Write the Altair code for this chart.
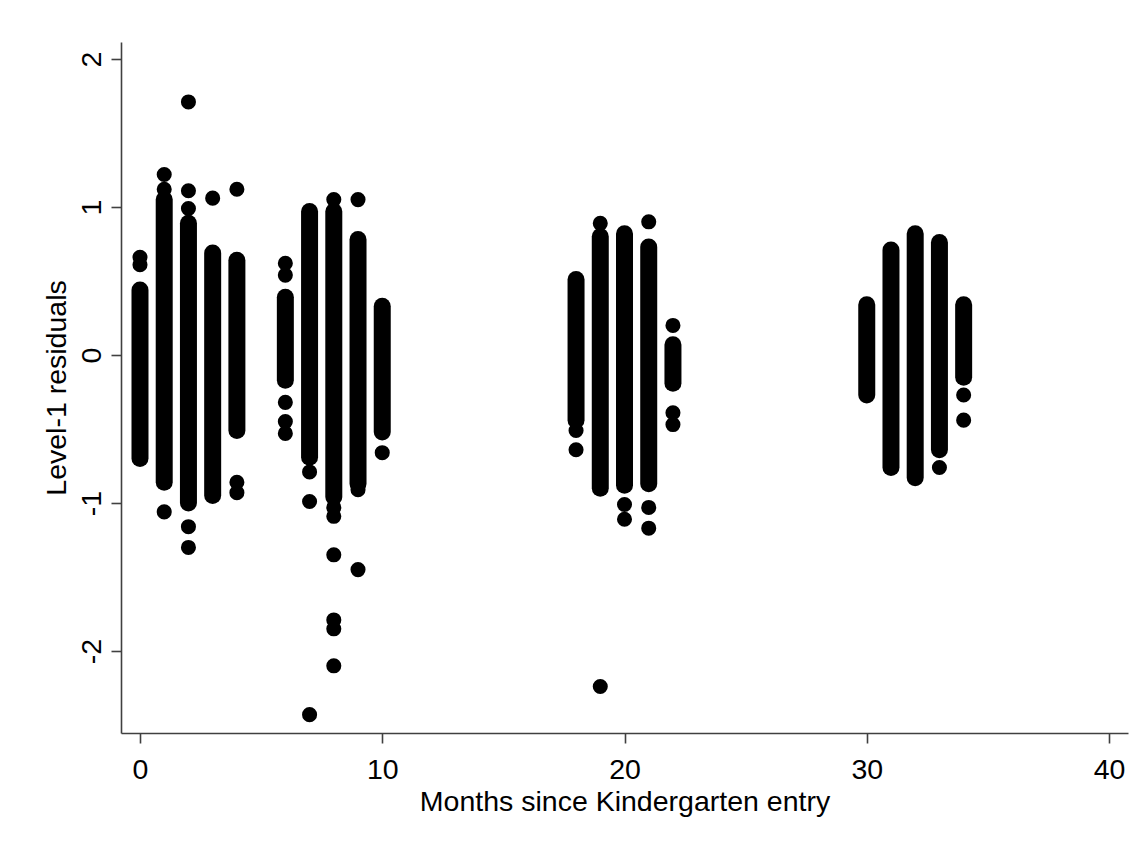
import altair as alt
import pandas as pd

# Dense runs of residuals at each measurement month: (month, lowest, highest)
seg_month = [0, 1, 2, 3, 4, 6, 7, 8, 9, 10,
             18, 19, 20, 21, 22, 30, 31, 32, 33, 34]
seg_lo = [-0.70, -0.86, -1.00, -0.95, -0.51, -0.17, -0.69, -0.96, -0.87, -0.52,
          -0.44, -0.90, -0.88, -0.87, -0.19, -0.27, -0.76, -0.83, -0.64, -0.15]
seg_hi = [0.44, 1.05, 0.89, 0.69, 0.64, 0.39, 0.97, 0.97, 0.78, 0.33,
          0.51, 0.80, 0.82, 0.73, 0.07, 0.34, 0.71, 0.82, 0.76, 0.34]

# Individual residuals lying outside the dense runs
pt_month = [0, 0,
            1, 1, 1,
            2, 2, 2, 2, 2,
            3,
            4, 4, 4,
            6, 6, 6, 6, 6,
            7, 7, 7,
            8, 8, 8, 8, 8, 8, 8,
            9, 9, 9,
            10,
            18, 18,
            19, 19,
            20, 20,
            21, 21, 21,
            22, 22, 22,
            33,
            34, 34]
pt_value = [0.66, 0.61,
            1.22, 1.12, -1.06,
            1.71, 1.11, 0.99, -1.16, -1.30,
            1.06,
            1.12, -0.86, -0.93,
            0.62, 0.54, -0.32, -0.45, -0.53,
            -0.79, -0.99, -2.43,
            1.05, -1.03, -1.09, -1.35, -1.79, -1.85, -2.10,
            1.05, -0.91, -1.45,
            -0.66,
            -0.51, -0.64,
            0.89, -2.24,
            -1.01, -1.11,
            0.90, -1.03, -1.17,
            0.20, -0.39, -0.47,
            -0.76,
            -0.27, -0.44]

segs = pd.DataFrame({"month": seg_month, "lo": seg_lo, "hi": seg_hi})
pts = pd.DataFrame({"month": pt_month, "resid": pt_value})

FONT = "Liberation Sans"
FS = 28.5
DOT = 17  # marker diameter in pixels

x_scale = alt.Scale(domain=[-0.784, 40.784], nice=False, zero=False)
y_scale = alt.Scale(domain=[-2.554, 2.115], nice=False, zero=False)

x_axis = alt.Axis(
    title="Months since Kindergarten entry",
    values=[0, 10, 20, 30, 40],
    labelExpr="'' + datum.value",
    grid=False,
    tickSize=10,
    labelBaseline="alphabetic",
    labelPadding=35,
    titleBaseline="alphabetic",
    titleY=77,
)
y_axis = alt.Axis(
    title="Level-1 residuals",
    values=[-2, -1, 0, 1, 2],
    labelExpr="'' + datum.value",
    grid=False,
    tickSize=10,
    labelAngle=270,
    labelAlign="center",
    labelBaseline="alphabetic",
    labelPadding=11,
    titleAngle=270,
    titleAlign="center",
    titleBaseline="middle",
    titleX=-65,
    titleY=345.5,
)

runs = alt.Chart(segs).mark_rule(
    color="black", strokeWidth=DOT, strokeCap="round"
).encode(
    x=alt.X("month:Q", scale=x_scale, axis=x_axis),
    y=alt.Y("lo:Q", scale=y_scale, axis=y_axis),
    y2="hi:Q",
)

dots = alt.Chart(pts).mark_circle(
    color="black", opacity=1, size=3.14159 * (DOT / 2) ** 2
).encode(
    x=alt.X("month:Q", scale=x_scale),
    y=alt.Y("resid:Q", scale=y_scale),
)

chart = (
    alt.layer(runs, dots)
    .properties(
        width=1007,
        height=691,
        autosize=alt.AutoSizeParams(type="none"),
        padding={"left": 121, "top": 42, "right": 20, "bottom": 109},
        background="white",
    )
    .configure_view(stroke=None)
    .configure_axis(
        domainColor="#404040",
        domainWidth=1.6,
        tickColor="#404040",
        tickWidth=1.6,
        labelFont=FONT,
        labelFontSize=FS,
        labelColor="black",
        titleFont=FONT,
        titleFontSize=FS,
        titleFontWeight="normal",
        titleColor="black",
    )
)

chart.save("out.html", embed_options={"renderer": "svg", "actions": False})
